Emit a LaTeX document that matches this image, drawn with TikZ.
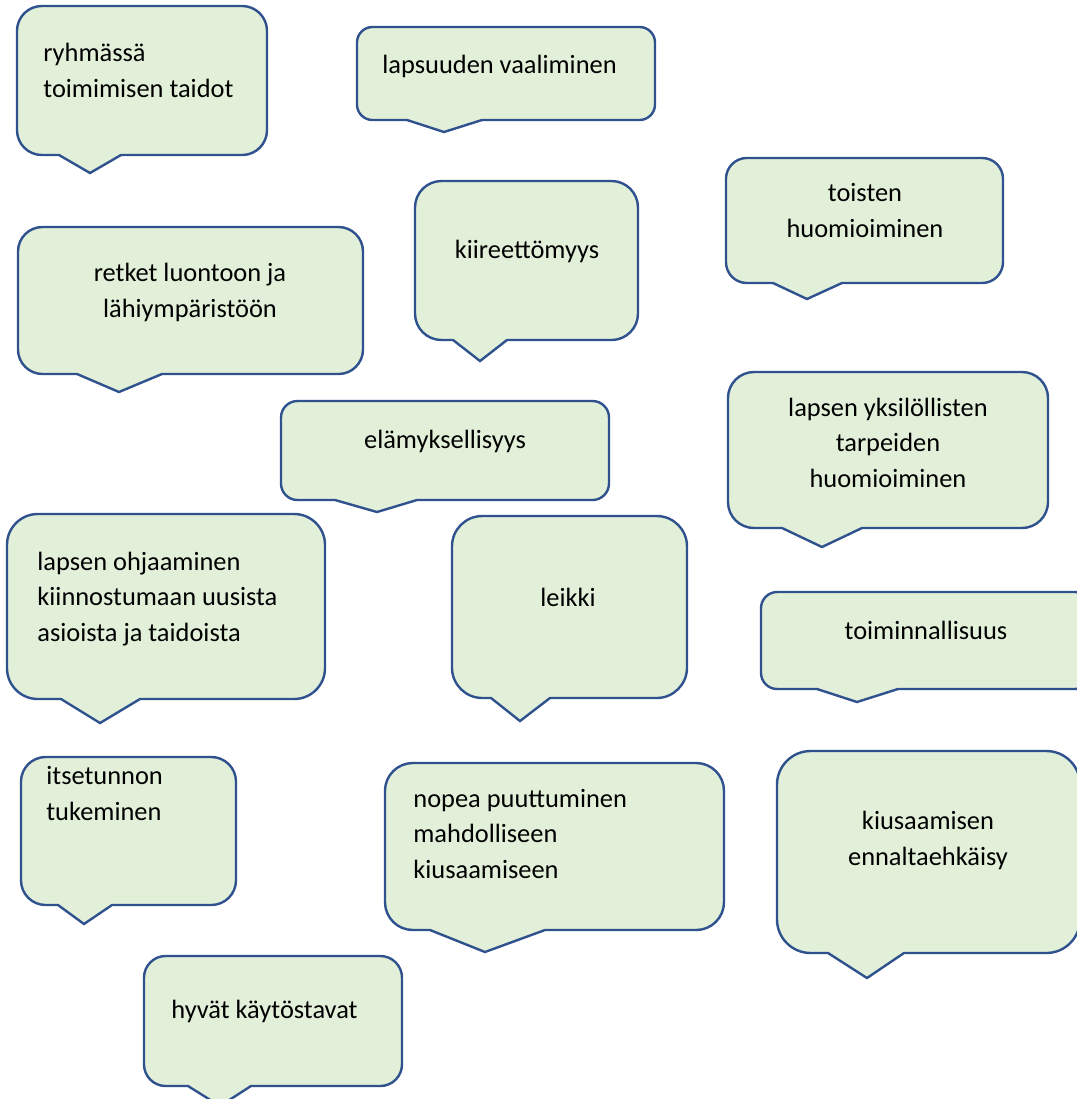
\documentclass[tikz,border=0pt]{standalone}
\usepackage{fontspec}
\setmainfont{Carlito}
\definecolor{bubblefill}{HTML}{E2F0D9}
\definecolor{bubbleline}{HTML}{2F528F}

\begin{document}
\begin{tikzpicture}[x=0.5pt,y=-0.5pt,
    bubble/.style={fill=bubblefill,draw=bubbleline,line width=1.2pt,line join=miter},
    bubble text/.style={inner sep=0pt,font=\fontsize{13.2pt}{17.6pt}\selectfont}]
  \useasboundingbox (0,0) rectangle (1077,1099);
  \clip (0,0) rectangle (1077,1099);
  % callouts: left/top/right/bottom, pointer base, pointer tip
  \foreach \l/\t/\r/\b/\pa/\pb/\tx/\ty in {
      17/6/267/155/59/121/90/173,
      357/27/655/120/407/482/444/132,
      726/158/1003/283/773/842/807/299,
      415/181/638/340/453/507/480/361,
      18/227/363/374/77/162/119/392,
      281/401/609/500/335/417/377/512,
      728/372/1048/528/782/862/822/547,
      7/514/325/699/61/140/100/723,
      452/516/687/698/491/550/520/721,
      761/592/1091/689/817/898/857/702,
      21/757/236/905/58/112/84/924,
      385/763/724/930/430/545/485/952,
      777/751/1080/953/828/904/867/978,
      144/956/402/1086/188/251/220/1106}{
    \pgfmathsetmacro\rad{0.0833*min(\r-\l,\b-\t)}
    \draw[bubble] (\pa,\b) -- (\tx,\ty) -- (\pb,\b) [rounded corners=\rad pt]
      -- (\r,\b) -- (\r,\t) -- (\l,\t) -- (\l,\b) [sharp corners] -- cycle;
  }
  % texts, placed on the baseline of their last line
  \node[bubble text,anchor=base west,align=left] (ryhma) at (43,97) {ryhmässä\\toimimisen taidot};
  \node[bubble text,anchor=base west] (lapsuus) at (382,73) {lapsuuden vaaliminen};
  \node[bubble text,anchor=base,align=center] (toiset) at (865,237) {toisten\\huomioiminen};
  \node[bubble text,anchor=base] (kiire) at (527,258) {kiireettömyys};
  \node[bubble text,anchor=base,align=center] (retket) at (190,317) {retket luontoon ja\\lähiympäristöön};
  \node[bubble text,anchor=base] (elamys) at (445,448) {elämyksellisyys};
  \node[bubble text,anchor=base,align=center] (yksilo) at (888,487) {lapsen yksilöllisten\\tarpeiden\\huomioiminen};
  \node[bubble text,anchor=base west,align=left] (ohjaus) at (37,641) {lapsen ohjaaminen\\kiinnostumaan uusista\\asioista ja taidoista};
  \node[bubble text,anchor=base] (leikki) at (568,606) {leikki};
  \node[bubble text,anchor=base] (toiminta) at (926,639) {toiminnallisuus};
  \node[bubble text,anchor=base west,align=left] (itsetunto) at (46,820) {itsetunnon\\tukeminen};
  \node[bubble text,anchor=base west,align=left] (puuttuminen) at (413,878) {nopea puuttuminen\\mahdolliseen\\kiusaamiseen};
  \node[bubble text,anchor=base,align=center] (kiusaaminen) at (928,865) {kiusaamisen\\ennaltaehkäisy};
  \node[bubble text,anchor=base west] (kaytos) at (171,1018) {hyvät käytöstavat};
\end{tikzpicture}
\end{document}
